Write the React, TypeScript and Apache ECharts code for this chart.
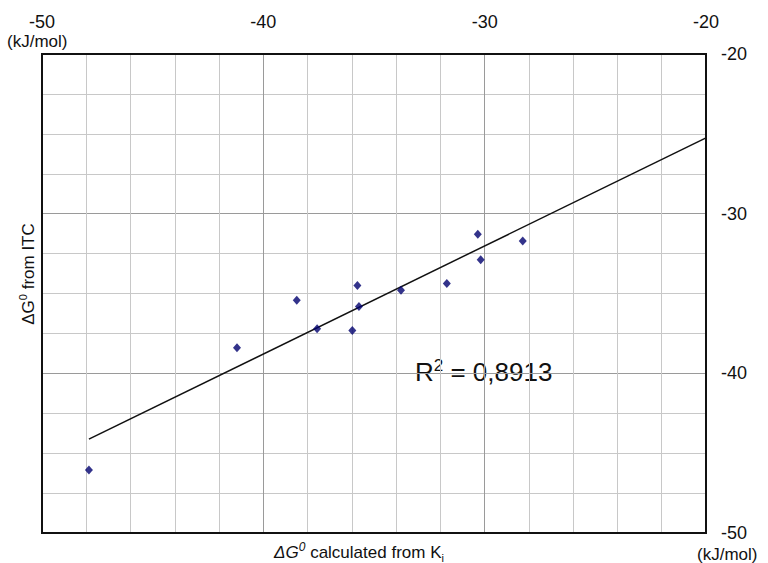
import React, { useEffect, useRef } from "react";
import * as echarts from "echarts";

const xValues = [-47.88, -41.19, -38.49, -37.57, -35.75, -35.68, -35.98, -33.78, -31.71, -30.31, -30.18, -28.28];
const yValues = [-46.06, -38.39, -35.42, -37.21, -34.5, -35.81, -37.31, -34.79, -34.38, -31.29, -32.89, -31.71];
const trendX = [-47.88, -20];
const trendY = [-44.125, -25.25];
const xTicks = [-50, -40, -30, -20];
const yTicks = [-50, -40, -30, -20];
const rSquared = "0,8913";

const FONT = "'Liberation Sans', Arial, sans-serif";

export default function App() {
  const ref = useRef<HTMLDivElement>(null);
  useEffect(() => {
    if (!ref.current) return;
    const chart = echarts.init(ref.current, null, { renderer: "svg" });
    const dark = "#9a9a9a";
    const light = "#c8c8c8";
    const grid = { left: 42, right: 62, top: 54, bottom: 30 };
    const base = { fontFamily: FONT, fill: "#111" };
    const frameLine = { show: true, onZero: false, lineStyle: { color: "#111", width: 2 } };
    const frameAxis = (position: string) => ({
      type: "value",
      position,
      min: -50,
      max: -20,
      axisLine: frameLine,
      axisTick: { show: false },
      axisLabel: { show: false },
      splitLine: { show: false },
      z: 6,
    });
    chart.setOption({
      animation: false,
      backgroundColor: "#fff",
      grid: {
        ...grid,
        containLabel: false,
        show: true,
        borderColor: "#111",
        borderWidth: 2,
        backgroundColor: "transparent",
      },
      xAxis: [
        {
          type: "value",
          position: "top",
          min: -50,
          max: -20,
          interval: 2,
          axisLine: frameLine,
          axisTick: { show: false },
          axisLabel: {
            margin: 23,
            fontSize: 18,
            color: "#111",
            fontFamily: FONT,
            showMinLabel: true,
            showMaxLabel: true,
            formatter: (v: number) => (xTicks.includes(v) ? String(v) : ""),
          },
          splitLine: {
            show: true,
            showMinLine: false,
            showMaxLine: false,
            lineStyle: { color: [light, light, light, light, dark], width: 1 },
          },
        },
        frameAxis("bottom"),
      ],
      yAxis: [
        {
          type: "value",
          position: "right",
          min: -50,
          max: -20,
          interval: 2.5,
          axisLine: frameLine,
          axisTick: { show: false },
          axisLabel: {
            margin: 15,
            fontSize: 18,
            color: "#111",
            fontFamily: FONT,
            formatter: (v: number) => (yTicks.includes(v) ? String(v) : ""),
          },
          splitLine: {
            show: true,
            showMinLine: false,
            showMaxLine: false,
            lineStyle: { color: [light, light, light, dark], width: 1 },
          },
        },
        frameAxis("left"),
      ],
      series: [
        {
          type: "line",
          xAxisIndex: 0,
          yAxisIndex: 0,
          data: trendX.map((x, i) => [x, trendY[i]]),
          symbol: "none",
          lineStyle: { color: "#111", width: 1.5 },
          z: 3,
        },
        {
          type: "scatter",
          xAxisIndex: 0,
          yAxisIndex: 0,
          data: xValues.map((x, i) => [x, yValues[i]]),
          symbol: "diamond",
          symbolSize: [8, 9],
          itemStyle: { color: "#00006e" },
          z: 4,
        },
      ],
      graphic: [
        {
          type: "text",
          left: 7,
          top: 33,
          style: { text: "(kJ/mol)", fontSize: 17, ...base },
        },
        {
          type: "text",
          left: 697,
          top: 546,
          style: { text: "(kJ/mol)", fontSize: 17, ...base },
        },
        {
          type: "text",
          x: 359,
          y: 552,
          style: {
            text: "{i|ΔG}{isup|0}{n| calculated from K}{sub|i}",
            align: "center",
            verticalAlign: "middle",
            fill: "#111",
            rich: {
              i: { fontSize: 17, fontStyle: "italic", lineHeight: 22, ...base },
              isup: { fontSize: 12, fontStyle: "italic", verticalAlign: "top", ...base },
              n: { fontSize: 17, lineHeight: 22, ...base },
              sub: { fontSize: 11, verticalAlign: "bottom", ...base },
            },
          },
        },
        {
          type: "text",
          x: 28,
          y: 274,
          rotation: Math.PI / 2,
          style: {
            text: "{i|ΔG}{isup|0}{n| from ITC}",
            align: "center",
            verticalAlign: "middle",
            fill: "#111",
            rich: {
              i: { fontSize: 17, lineHeight: 22, ...base },
              isup: { fontSize: 11, verticalAlign: "top", ...base },
              n: { fontSize: 17, lineHeight: 22, ...base },
            },
          },
        },
        {
          type: "text",
          x: 415,
          y: 372,
          style: {
            text: "{n|R}{sup|2}{n| = " + rSquared + "}",
            align: "left",
            verticalAlign: "middle",
            fill: "#111",
            rich: {
              n: { fontSize: 26, lineHeight: 30, ...base },
              sup: { fontSize: 17, verticalAlign: "top", ...base },
            },
          },
        },
      ],
    });
    // Frame rectangle derived from the axes' own scale
    const p0 = chart.convertToPixel({ gridIndex: 0 }, [-50, -20]) as number[];
    const p1 = chart.convertToPixel({ gridIndex: 0 }, [-20, -50]) as number[];
    if (p0 && p1) {
      chart.setOption({
        graphic: [
          {
            id: "frame",
            type: "rect",
            z: 100,
            silent: true,
            shape: { x: p0[0], y: p0[1], width: p1[0] - p0[0], height: p1[1] - p0[1] },
            style: { fill: "none", stroke: "#111", lineWidth: 2 },
          },
        ],
      });
    }
    return () => chart.dispose();
  }, []);
  return (
    <div
      ref={ref}
      style={{ position: "fixed", left: 0, top: 0, width: 768, height: 563, background: "#fff" }}
    />
  );
}
